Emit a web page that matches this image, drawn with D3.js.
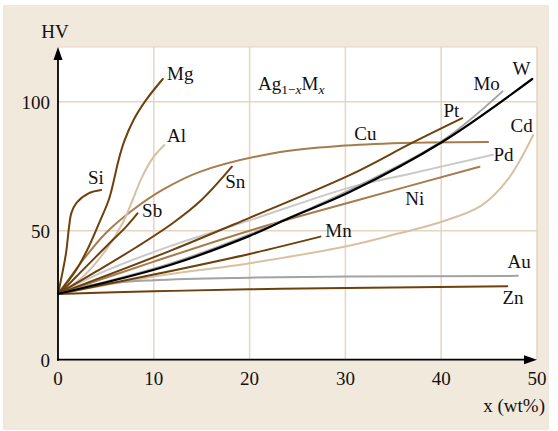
<!DOCTYPE html>
<html>
<head>
<meta charset="utf-8">
<script src="https://cdn.jsdelivr.net/npm/d3@7"></script>
<style>
  html, body { margin: 0; padding: 0; background: #ffffff; }
  svg { display: block; }
  text { font-family: "Liberation Serif", "Times New Roman", serif; fill: #111; }
</style>
</head>
<body>
<svg id="chart" width="558" height="431"></svg>
<script>
// Vickers hardness of binary silver alloys Ag(1-x)M(x) versus solute content (wt%)
const xTicks = [0, 10, 20, 30, 40, 50];
const yTicks = [0, 50, 100];

const mg = [[0, 25.5], [1.9, 34.8], [3.2, 43.7], [4.3, 53], [5.3, 62], [5.8, 69], [6.3, 77], [6.9, 84.5], [7.9, 93], [9.2, 100.7], [10.94, 108.8]];
const si = [[0, 25.5], [0.31, 30.9], [0.84, 41.4], [1.15, 51.4], [1.4, 56.9], [1.95, 60.9], [3.24, 64.6], [4.5, 65.8]];
const al = [[0, 25.5], [2.6, 32.2], [5.0, 42.5], [6.75, 53], [7.8, 62], [8.7, 70.2], [9.9, 78.2], [11.1, 83.2]];
const sb = [[0, 25.5], [0.5, 27], [2.6, 34.8], [5.0, 43.8], [7.1, 51.5], [8.3, 56.7]];
const cu = [[0, 25.5], [0.84, 29.7], [2.6, 38.6], [5.0, 49.1], [7.8, 58], [10.9, 65.8], [14.8, 72.8], [23.2, 80.5], [30, 83], [37.1, 84.1], [44.9, 84.4]];
const sn = [[0, 25.5], [4, 34.2], [8, 43.2], [12, 53], [15, 62], [18.15, 74.8]];
const pt = [[0, 25.5], [11.7, 42.2], [20, 55], [30.5, 71.6], [37, 84.1], [42.2, 93.6]];
const pd = [[0, 25.5], [5, 34.5], [11.7, 44], [20, 54], [30.5, 66.8], [37, 72.3], [45.4, 79.4]];
const mo = [[0, 25.5], [11.7, 37.2], [20, 48.6], [30.5, 65.8], [40.1, 84.8], [46.4, 104]];
const w = [[0, 25.5], [11.7, 36.7], [20, 48], [24.2, 55], [30.5, 65.1], [40.1, 84.4], [49.5, 108.8]];
const ni = [[0, 25.5], [10, 38], [20, 50], [30.5, 61], [44, 74.8]];
const mn = [[0, 25.5], [10, 33], [20, 41], [27.4, 47.7]];
const cd = [[0, 25.5], [9.6, 32], [20, 37.4], [30.5, 44.3], [35.4, 48.8], [39.9, 53.3], [44.1, 59.5], [46.9, 69.6], [49.6, 87]];
const au = [[0, 25.5], [3, 28.6], [10, 30.8], [20, 31.8], [30.5, 32.2], [48, 32.5]];
const zn = [[0, 25.5], [10, 26.5], [20, 27.3], [30, 27.8], [46.9, 28.5]];

const elements = ["Cd", "Au", "Zn", "Mn", "Ni", "Pd", "Cu", "Al", "Sb", "Si", "Sn", "Pt", "Mg", "Mo", "W"];
const seriesValues = { Mg: mg, Si: si, Al: al, Sb: sb, Cu: cu, Sn: sn, Pt: pt, Pd: pd, Mo: mo, W: w, Ni: ni, Mn: mn, Cd: cd, Au: au, Zn: zn };

// label anchors in data units (text start, baseline)
const labelAt = {
  Mg: [11.39, 108.4], Al: [11.39, 84.4], Si: [3.13, 68.1], Sb: [8.78, 55.3], Sn: [17.45, 66.5],
  Cu: [30.93, 85.2], Pt: [40.23, 94.1], Mo: [43.36, 104.5], W: [47.44, 110.3], Cd: [47.23, 88.3],
  Pd: [45.45, 77.0], Ni: [36.26, 60.0], Mn: [27.9, 47.6], Au: [46.92, 35.5], Zn: [46.39, 21.6]
};

const DARK = "#6e400c", MID = "#a67c4c", LIGHT = "#d8c1a3", PALE = "#c9c9c9", GREY = "#a3a3a3";
const colour = {
  Mg: DARK, Si: DARK, Sb: DARK, Sn: DARK, Pt: DARK, Mn: DARK, Zn: DARK,
  Cu: MID, Ni: MID, Al: LIGHT, Cd: LIGHT, Pd: PALE, Mo: GREY, Au: GREY, W: "#000000"
};

(function draw() {
  const svg = d3.select("#chart");
  const pL = 58, pR = 537, pT = 47, pB = 359.7;

  // panel background
  svg.append("rect").attr("x", 3).attr("y", 5).attr("width", 546).attr("height", 425).attr("fill", "#f2e9dd");
  svg.append("rect").attr("x", pL).attr("y", pT).attr("width", pR - pL).attr("height", pB - pT).attr("fill", "#ffffff");

  const x = d3.scaleLinear().domain([0, 50]).range([pL, pR]);
  const y = d3.scaleLinear().domain([0, 121.2]).range([pB, pT]);

  // grid
  const grid = svg.append("g").attr("stroke", "#e6d5c0").attr("stroke-width", 1.5);
  xTicks.filter(t => t > 0).forEach(t => {
    grid.append("line").attr("x1", x(t)).attr("x2", x(t)).attr("y1", pT).attr("y2", pB);
  });
  yTicks.filter(t => t > 0).forEach(t => {
    grid.append("line").attr("x1", pL).attr("x2", pR).attr("y1", y(t)).attr("y2", y(t));
  });
  grid.append("line").attr("x1", pL).attr("x2", pR).attr("y1", pT).attr("y2", pT).attr("stroke-width", 1);

  // curves
  const line = d3.line().x(d => x(d[0])).y(d => y(d[1])).curve(d3.curveCatmullRom.alpha(0.5));
  const curves = svg.append("g").attr("fill", "none").attr("stroke-linecap", "round");
  elements.forEach(k => {
    curves.append("path").attr("d", line(seriesValues[k]))
      .attr("stroke", colour[k]).attr("stroke-width", k === "W" ? 2.2 : 2);
  });

  // axes with arrow heads
  const axes = svg.append("g");
  axes.append("line").attr("x1", pL).attr("x2", pL).attr("y1", pB + 1).attr("y2", pT + 10)
    .attr("stroke", "#000").attr("stroke-width", 1.8);
  axes.append("line").attr("x1", pL - 1).attr("x2", pR - 10).attr("y1", pB).attr("y2", pB)
    .attr("stroke", "#000").attr("stroke-width", 1.8);
  axes.append("path").attr("d", `M${pL},${pT} L${pL - 4.5},${pT + 13} L${pL + 4.5},${pT + 13} Z`).attr("fill", "#000");
  axes.append("path").attr("d", `M${pR},${pB} L${pR - 13},${pB - 4.5} L${pR - 13},${pB + 4.5} Z`).attr("fill", "#000");

  // tick labels
  const fs = 19;
  yTicks.forEach(t => {
    svg.append("text").attr("x", 50).attr("y", y(t)).attr("dy", "0.36em")
      .attr("text-anchor", "end").attr("font-size", fs).text(t);
  });
  xTicks.forEach(t => {
    svg.append("text").attr("x", x(t)).attr("y", 385)
      .attr("text-anchor", "middle").attr("font-size", fs).text(t);
  });
  svg.append("text").attr("x", 545).attr("y", 411.5).attr("text-anchor", "end").attr("font-size", fs).text("x (wt%)");
  svg.append("text").attr("x", 55).attr("y", 38).attr("text-anchor", "middle").attr("font-size", fs).text("HV");

  // formula title
  const title = svg.append("text").attr("x", 258).attr("y", 90).attr("font-size", fs);
  title.append("tspan").text("Ag");
  title.append("tspan").attr("font-size", 13.5).attr("dy", 4).text("1−");
  title.append("tspan").attr("font-size", 13.5).attr("font-style", "italic").text("x");
  title.append("tspan").attr("dy", -4).text("M");
  title.append("tspan").attr("font-size", 13.5).attr("font-style", "italic").attr("dy", 4).text("x");

  // element labels
  elements.forEach(k => {
    const p = labelAt[k];
    svg.append("text").attr("x", x(p[0])).attr("y", y(p[1])).attr("font-size", fs).text(k);
  });
})();
</script>
</body>
</html>
